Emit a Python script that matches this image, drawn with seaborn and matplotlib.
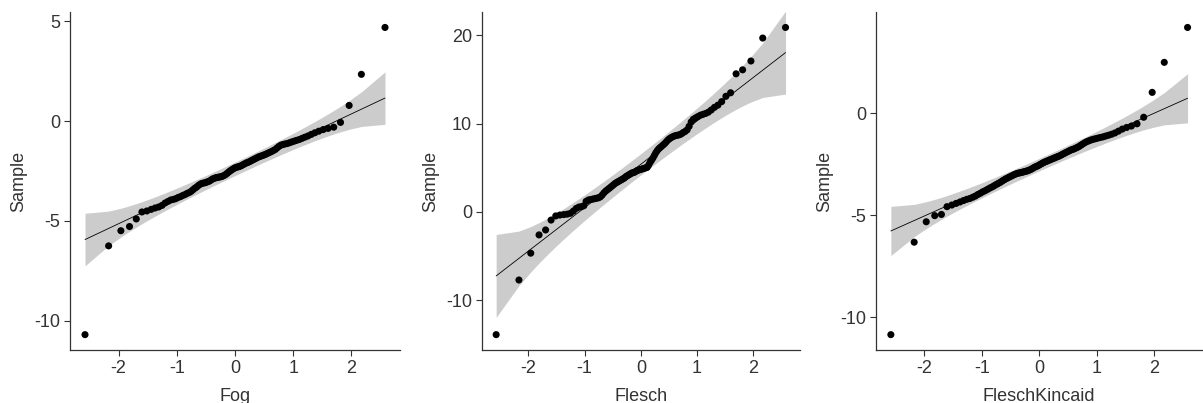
import numpy as np
import pandas as pd
import matplotlib
matplotlib.use("Agg")
import matplotlib.pyplot as plt
import seaborn as sns
from matplotlib.ticker import MultipleLocator
from statistics import NormalDist

# Sorted sample values (n = 100 each)
fog = [-10.70, -6.25, -5.49, -5.28, -4.90, -4.55, -4.50, -4.42, -4.35, -4.30,
       -4.22, -4.10, -4.02, -3.95, -3.92, -3.88, -3.82, -3.78, -3.72, -3.68,
       -3.62, -3.58, -3.52, -3.44, -3.36, -3.30, -3.22, -3.16, -3.12, -3.10,
       -3.08, -3.05, -3.02, -2.98, -2.92, -2.88, -2.85, -2.83, -2.81, -2.80,
       -2.78, -2.76, -2.72, -2.68, -2.62, -2.56, -2.50, -2.45, -2.40, -2.36,
       -2.32, -2.30, -2.28, -2.26, -2.22, -2.18, -2.14, -2.10, -2.07, -2.04,
       -2.00, -1.96, -1.92, -1.88, -1.84, -1.80, -1.77, -1.74, -1.71, -1.68,
       -1.64, -1.60, -1.56, -1.52, -1.47, -1.42, -1.34, -1.26, -1.20, -1.17,
       -1.14, -1.12, -1.08, -1.04, -1.00, -0.96, -0.92, -0.86, -0.80, -0.74,
       -0.66, -0.58, -0.50, -0.42, -0.36, -0.30, -0.06, 0.79, 2.35, 4.70]

flesch = [-13.90, -7.71, -4.67, -2.60, -2.04, -0.92, -0.45, -0.35, -0.30, -0.25,
          -0.15, 0.10, 0.40, 0.55, 0.60, 0.70, 1.20, 1.35, 1.40, 1.45,
          1.50, 1.55, 1.60, 1.70, 1.90, 2.15, 2.35, 2.50, 2.65, 2.80,
          2.95, 3.10, 3.25, 3.35, 3.45, 3.55, 3.65, 3.75, 3.85, 4.00,
          4.10, 4.20, 4.30, 4.40, 4.45, 4.50, 4.60, 4.70, 4.75, 4.80,
          4.85, 4.90, 4.95, 5.00, 5.05, 5.30, 5.60, 5.85, 6.10, 6.40,
          6.70, 6.95, 7.15, 7.30, 7.45, 7.60, 7.75, 7.95, 8.15, 8.30,
          8.42, 8.52, 8.60, 8.66, 8.70, 8.75, 8.85, 9.00, 9.12, 9.30,
          9.70, 10.20, 10.50, 10.65, 10.80, 10.95, 11.05, 11.15, 11.30, 11.55,
          11.85, 12.10, 12.50, 13.10, 13.50, 15.65, 16.10, 17.10, 19.70, 20.90]

flesch_kincaid = [-10.85, -6.32, -5.32, -5.02, -4.96, -4.58, -4.50, -4.42, -4.35, -4.28,
                  -4.22, -4.18, -4.12, -4.06, -3.98, -3.92, -3.85, -3.80, -3.74, -3.68,
                  -3.63, -3.58, -3.52, -3.47, -3.42, -3.37, -3.31, -3.26, -3.21, -3.17,
                  -3.13, -3.09, -3.05, -3.01, -2.98, -2.95, -2.93, -2.92, -2.90, -2.88,
                  -2.86, -2.84, -2.82, -2.79, -2.76, -2.72, -2.68, -2.64, -2.61, -2.58,
                  -2.54, -2.50, -2.46, -2.42, -2.39, -2.36, -2.33, -2.30, -2.27, -2.24,
                  -2.21, -2.18, -2.15, -2.12, -2.09, -2.05, -2.01, -1.97, -1.93, -1.89,
                  -1.85, -1.81, -1.78, -1.75, -1.71, -1.67, -1.62, -1.56, -1.50, -1.44,
                  -1.39, -1.35, -1.31, -1.28, -1.25, -1.22, -1.19, -1.16, -1.12, -1.08,
                  -1.03, -0.97, -0.88, -0.78, -0.70, -0.63, -0.52, -0.20, 1.02, 2.49, 4.20]

names = ["Fog", "Flesch", "FleschKincaid"]
series = [fog, flesch, flesch_kincaid]
y_steps = [5, 10, 5]

sns.set_style("ticks")
plt.rcParams["font.family"] = ["Liberation Sans", "DejaVu Sans"]
plt.rcParams["axes.unicode_minus"] = False

fig = plt.figure(figsize=(12.03, 4.03), dpi=100)
lefts = [0.0582, 0.4004, 0.7282]
rights = [0.3325, 0.6650, 0.9995]
bottom, top = 0.1315, 0.970

nd = NormalDist()
for k, (name, vals, step) in enumerate(zip(names, series, y_steps)):
    ax = fig.add_axes([lefts[k], bottom, rights[k] - lefts[k], top - bottom])
    y = np.sort(np.array(vals))
    n = len(y)
    p = (np.arange(1, n + 1) - 0.5) / n
    z = np.array([nd.inv_cdf(v) for v in p])

    # qqline through quartiles + pointwise 95% band
    q1, q3 = np.quantile(y, [0.25, 0.75])
    z1, z3 = nd.inv_cdf(0.25), nd.inv_cdf(0.75)
    slope = (q3 - q1) / (z3 - z1)
    icpt = q1 - slope * z1
    fit = icpt + slope * z
    se = slope / np.array([nd.pdf(v) for v in z]) * np.sqrt(p * (1 - p) / n)
    zz = nd.inv_cdf(0.975)

    ax.fill_between(z, fit - zz * se, fit + zz * se, color="#cccccc", lw=0, zorder=1)
    df = pd.DataFrame({"z": z, "y": y, "fit": fit})
    sns.lineplot(data=df, x="z", y="fit", ax=ax, color="black", lw=0.6, zorder=2)
    sns.scatterplot(data=df, x="z", y="y", ax=ax, color="black", s=26,
                    edgecolor="none", zorder=3)

    xr = z.max() - z.min()
    ax.set_xlim(z.min() - 0.05 * xr, z.max() + 0.05 * xr)
    yr = y.max() - y.min()
    ax.set_ylim(y.min() - 0.05 * yr, y.max() + 0.05 * yr)
    ax.xaxis.set_major_locator(MultipleLocator(1))
    ax.yaxis.set_major_locator(MultipleLocator(step))

    ax.set_xlabel(name, fontsize=13, color="#333333", labelpad=8)
    ax.set_ylabel("Sample", fontsize=13, color="#333333", labelpad=5)
    ax.tick_params(labelsize=13, labelcolor="#333333", color="#333333",
                   length=4, width=0.8, pad=3)
    sns.despine(ax=ax)
    for s in ["left", "bottom"]:
        ax.spines[s].set_color("#333333")
        ax.spines[s].set_linewidth(0.9)

fig.savefig("out.png", dpi=100)
